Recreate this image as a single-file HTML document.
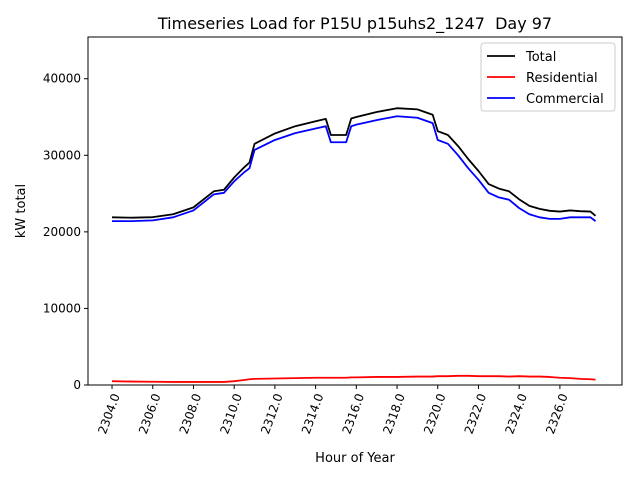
<!DOCTYPE html>
<html><head><meta charset="utf-8"><style>
body{margin:0;background:#fff;font-family:"Liberation Sans","DejaVu Sans",sans-serif}
svg text{font-family:"DejaVu Sans","Liberation Sans",sans-serif}
</style></head><body>
<svg id="chart" width="640" height="480" xmlns="http://www.w3.org/2000/svg">
<rect width="640" height="480" fill="#fff"/>
<text x="355" y="29" font-size="16" text-anchor="middle">Timeseries Load for P15U p15uhs2_1247&#160; Day 97</text>
<g id="plot"></g>
<text x="355" y="462" font-size="13" text-anchor="middle">Hour of Year</text>
<text transform="translate(25,211) rotate(-90)" font-size="13" text-anchor="middle">kW total</text>
</svg>
<script>
const hours=[2304,2305,2306,2307,2308,2309,2309.5,2310,2310.5,2310.75,2311,2312,2313,2314,2314.5,2314.75,2315.5,2315.75,2316,2317,2318,2319,2319.75,2320,2320.5,2321,2321.5,2322,2322.5,2323,2323.5,2324,2324.5,2325,2325.5,2326,2326.5,2327,2327.5,2327.75];
const commercial=[21400,21400,21500,21900,22800,24900,25100,26600,27800,28300,30700,32000,32900,33500,33800,31700,31700,33800,34000,34600,35100,34900,34200,32000,31500,30000,28300,26800,25100,24500,24200,23100,22300,21900,21700,21700,21900,21900,21900,21400];
const residential=[500,450,420,400,400,400,400,500,650,750,800,850,900,950,950,950,950,1000,1000,1050,1050,1100,1100,1150,1150,1200,1200,1150,1150,1150,1100,1150,1100,1100,1050,950,900,800,750,700];
const total=[21900,21850,21920,22300,23200,25300,25500,27100,28450,29050,31500,32850,33800,34450,34750,32650,32650,34800,35000,35650,36150,36000,35300,33150,32650,31200,29500,27950,26250,25650,25300,24250,23400,23000,22750,22650,22800,22700,22650,22100];
const xTicks=[2304,2306,2308,2310,2312,2314,2316,2318,2320,2322,2324,2326];
const yTicks=[0,10000,20000,30000,40000];
const L=88,R=622,T=37,B=385;
const xMin=2302.82,xMax=2329.05,yMin=0,yMax=45450;
const sx=v=>L+(v-xMin)/(xMax-xMin)*(R-L);
const sy=v=>B-(v-yMin)/(yMax-yMin)*(B-T);
const NS="http://www.w3.org/2000/svg";
const g=document.getElementById('plot');
function mk(t,a){const e=document.createElementNS(NS,t);for(const k in a)e.setAttribute(k,a[k]);g.appendChild(e);return e;}
function line(data,color,name){
  const p=mk('polyline',{points:hours.map((h,i)=>sx(h)+','+sy(data[i])).join(' '),fill:'none',stroke:color,'stroke-width':1.8,'stroke-linejoin':'round'});
  
  
}
line(total,'#000','series-total');
line(residential,'#f00','series-residential');
line(commercial,'#00f','series-commercial');
const fr=mk('rect',{x:L,y:T,width:R-L,height:B-T,fill:'none',stroke:'#000','stroke-width':1});


xTicks.forEach(v=>{
  const x=sx(v);
  mk('line',{x1:x,y1:B,x2:x,y2:B+4,stroke:'#000'});
  const t=mk('text',{transform:`translate(${x+4},${B+9}) rotate(-70)`,'font-size':12,'text-anchor':'end',dy:'0.35em'});
  t.textContent=v.toFixed(1);
  
  
});
yTicks.forEach(v=>{
  const y=sy(v);
  mk('line',{x1:L-4,y1:y,x2:L,y2:y,stroke:'#000'});
  const t=mk('text',{x:L-7,y:y+4,'font-size':12,'text-anchor':'end'});
  t.textContent=v;
  
  
});
const lg=mk('rect',{x:481,y:43,width:134,height:68,rx:3,fill:'#fff','fill-opacity':0.8,stroke:'#ccc'});


[['Total','#000'],['Residential','#f00'],['Commercial','#00f']].forEach((e,i)=>{
  const y=56+i*21;
  mk('line',{x1:487,y1:y,x2:515,y2:y,stroke:e[1],'stroke-width':1.8});
  const t=mk('text',{x:526,y:y+5,'font-size':13});
  t.textContent=e[0];
  
  
});
</script>
</body></html>
